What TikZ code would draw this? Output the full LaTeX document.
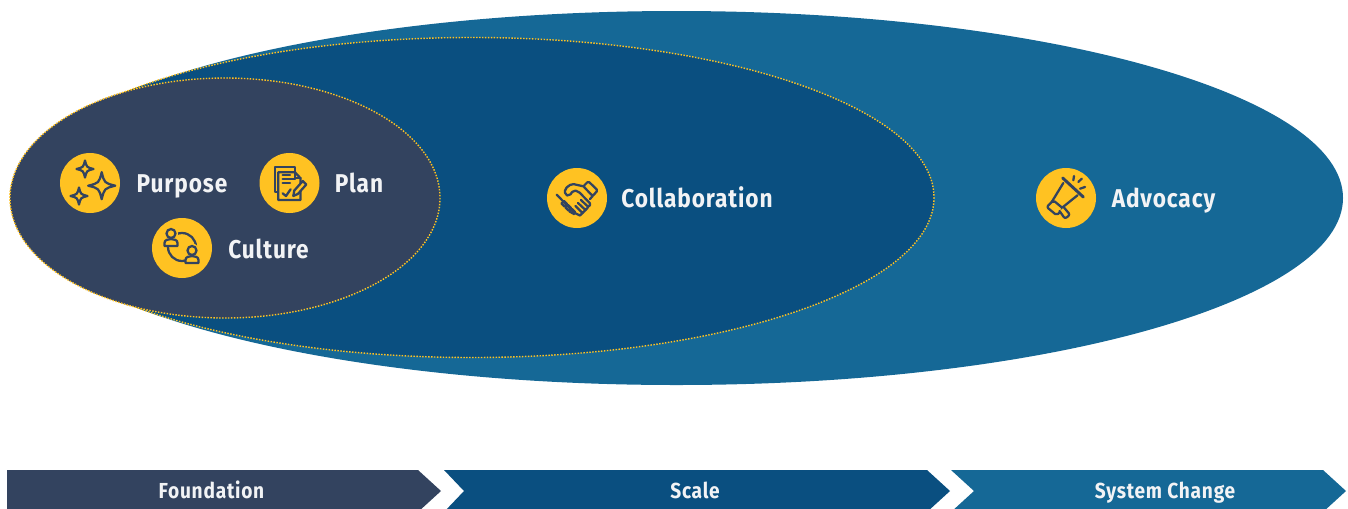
\documentclass[tikz,border=0pt]{standalone}
\usepackage{fontspec}
\setmainfont{Fira Sans}[LetterSpace=3.5,UprightFeatures={FakeStretch=0.88},BoldFeatures={FakeStretch=0.88}]
\definecolor{cinner}{HTML}{33435F}
\definecolor{cmid}{HTML}{0A4F80}
\definecolor{couter}{HTML}{156896}
\definecolor{cyel}{HTML}{FFC222}
\definecolor{ctext}{HTML}{F2F3F5}
\tikzset{
  x=0.75pt,y=-0.75pt,
  dots/.style={draw=cyel,line width=1.05pt,dash pattern=on 1.1pt off 1.1pt},
  badge/.style={circle,fill=cyel,minimum size=45pt,inner sep=0pt,outer sep=0pt},
  biglabel/.style={text=ctext,font=\fontsize{19.3}{22}\selectfont\bfseries,inner sep=0pt,anchor=base},
  barlabel/.style={text=ctext,font=\fontsize{16.3}{18}\selectfont\bfseries,inner sep=0pt,anchor=base},
  ic/.style={draw=cinner,line width=1.7pt,line join=round,line cap=round},
}
\newcommand{\sparkstar}[3]{%
  \draw[ic,shift={(#1,#2)}] (0,-#3) .. controls (0.2*#3,-0.2*#3) .. (#3,0)
    .. controls (0.2*#3,0.2*#3) .. (0,#3)
    .. controls (-0.2*#3,0.2*#3) .. (-#3,0)
    .. controls (-0.2*#3,-0.2*#3) .. cycle;}
\begin{document}
\begin{tikzpicture}
\useasboundingbox (0,0) rectangle (1348,508);
\clip (0,0) rectangle (1348,508);
% ellipses
\fill[couter] (676.5,198) ellipse [x radius=666.5,y radius=187];
\fill[cmid] (472,197.5) ellipse [x radius=462,y radius=160];
\draw[dots] (472,197.5) ellipse [x radius=462,y radius=160];
\fill[cinner] (225,198) ellipse [x radius=215,y radius=120];
\draw[dots] (225,198) ellipse [x radius=215,y radius=120];
% chevrons
\fill[cinner] (7,470) -- (418,470) -- (441,491) -- (418,512) -- (7,512) -- cycle;
\fill[cmid] (444,470) -- (927,470) -- (950,491) -- (927,512) -- (444,512) -- (464,491) -- cycle;
\fill[couter] (951,470) -- (1323,470) -- (1346,491) -- (1323,512) -- (951,512) -- (974,491) -- cycle;
\node[barlabel] (lfound) at (211.5,498) {Foundation};
\node[barlabel] (lscale) at (695,498) {Scale};
\node[barlabel] (lsys) at (1165,498) {System Change};
% badges
\node[badge] (bpurpose) at (90,183) {};
\node[badge] (bplan) at (289.5,183) {};
\node[badge] (bculture) at (182,248) {};
\node[badge] (bcollab) at (577,198) {};
\node[badge] (badvo) at (1066,198) {};
% labels
\node[biglabel] (lpurpose) at (182,192) {Purpose};
\node[biglabel] (lplan) at (359,192) {Plan};
\node[biglabel] (lculture) at (268.5,258) {Culture};
\node[biglabel] (lcollab) at (697,207) {Collaboration};
\node[biglabel] (ladvo) at (1163.5,207) {Advocacy};
% sparkle icon
\sparkstar{101.7}{185.7}{13.5}
\sparkstar{85}{169}{8.5}
\sparkstar{79}{196}{8.5}
% culture icon
\begin{scope}[shift={(182,248)}]
  \draw[ic] (0,-1) circle [radius=14];
  \fill[cyel] (-11,-14.5) circle [radius=7];
  \fill[cyel] (10,2.5) circle [radius=7];
  \draw[ic,fill=cyel] (-11,-14.5) circle [radius=4.5];
  \draw[ic,fill=cyel] (-17.5,-2) -- (-17.5,-5) .. controls (-17.5,-8) and (-14,-9) .. (-11,-9) .. controls (-8,-9) and (-4.5,-8) .. (-4.5,-5) -- (-4.5,-2) -- cycle;
  \draw[ic,fill=cyel] (10,2.5) circle [radius=4.5];
  \draw[ic,fill=cyel] (3.5,15) -- (3.5,12) .. controls (3.5,9) and (7,8) .. (10,8) .. controls (13,8) and (16.5,9) .. (16.5,12) -- (16.5,15) -- cycle;
\end{scope}
% plan icon
\begin{scope}[shift={(289.3,183)}]
  \draw[ic] (-11,8.7) -- (-14.3,8.7) -- (-14.3,-15.7) -- (5.7,-15.7) -- (5.7,-10.7);
  \draw[ic,fill=cyel] (-11,-10.7) -- (5.7,-10.7) -- (11.3,-4.7) -- (11.3,17) -- (-11,17) -- cycle;
  \draw[ic] (5.7,-10.7) -- (5.7,-4.7) -- (11.3,-4.7);
  \draw[ic] (-6.7,-8) -- (0.7,-8);
  \draw[ic] (-6.7,-3.7) -- (5.7,-3.7);
  \draw[ic] (-6.7,0.3) -- (0.7,0.3);
  \draw[ic] (-6.7,10.3) -- (-3.3,13) -- (1.3,6.3);
  \draw[ic,fill=cyel] (4,13) -- (5,7.5) -- (13.5,-2) -- (17,1.5) -- (8.5,11) -- cycle;
\end{scope}
% handshake icon
\begin{scope}[shift={(577,198)}]
  \draw[ic,rounded corners=1pt] (11.3,-16.7) -- (20.7,-7.7) -- (15.7,-2) -- (6.3,-11.7) -- cycle;
  \draw[ic,rounded corners=1.5pt] (6.3,-11.7) -- (-5.3,-14.3) -- (-12,-9.3) -- (-12,-3.3) -- (-7.7,-2) -- (-3.7,-7.7) -- (1.3,-6.7) -- (14,6.3) -- (11.3,9) -- (4,2);
  \draw[ic] (15.7,-2) -- (13,1);
  \draw[ic] (-20.3,-3.3) -- (-2.7,14.7);
  \draw[ic] (11.3,9) -- (8.5,12) -- (1,5);
  \draw[ic] (8.5,12) -- (5.5,15) -- (-1.5,8);
  \draw[ic] (5.5,15) -- (3,17.5) -- (-2.7,14.7);
  \draw[ic] (-15.5,5.5) -- (-13,3) -- (-10,6) -- (-12.5,8.5) -- cycle;
  \draw[ic] (-11.5,9.5) -- (-9,7) -- (-6,10) -- (-8.5,12.5) -- cycle;
  \draw[ic] (-7.5,13.5) -- (-5,11) -- (-2,14) -- (-3,16) -- cycle;
\end{scope}
% megaphone icon
\begin{scope}[shift={(1066,198)}]
  \draw[ic,line width=2.2pt] (-3.3,-20) -- (17.3,-1);
  \draw[ic] (-2.7,-15) -- (-14.3,4);
  \draw[ic] (11.5,-2.7) -- (-4.3,10);
  \draw[ic,fill=cyel,rounded corners=1.5pt] (-19.3,9) -- (-12.7,2.3) -- (-2.7,10.7) -- (-9.3,17.3) -- cycle;
  \draw[ic,fill=cyel,rounded corners=1.5pt] (-6.5,13) -- (-1,20.7) -- (4,16.7) -- (-2,9.5);
  \draw[ic] (8,-22) -- (7.3,-17.7);
  \draw[ic] (15.7,-19.3) -- (12.3,-16);
  \draw[ic] (19,-11) -- (14,-9.3);
\end{scope}
\end{tikzpicture}
\end{document}
